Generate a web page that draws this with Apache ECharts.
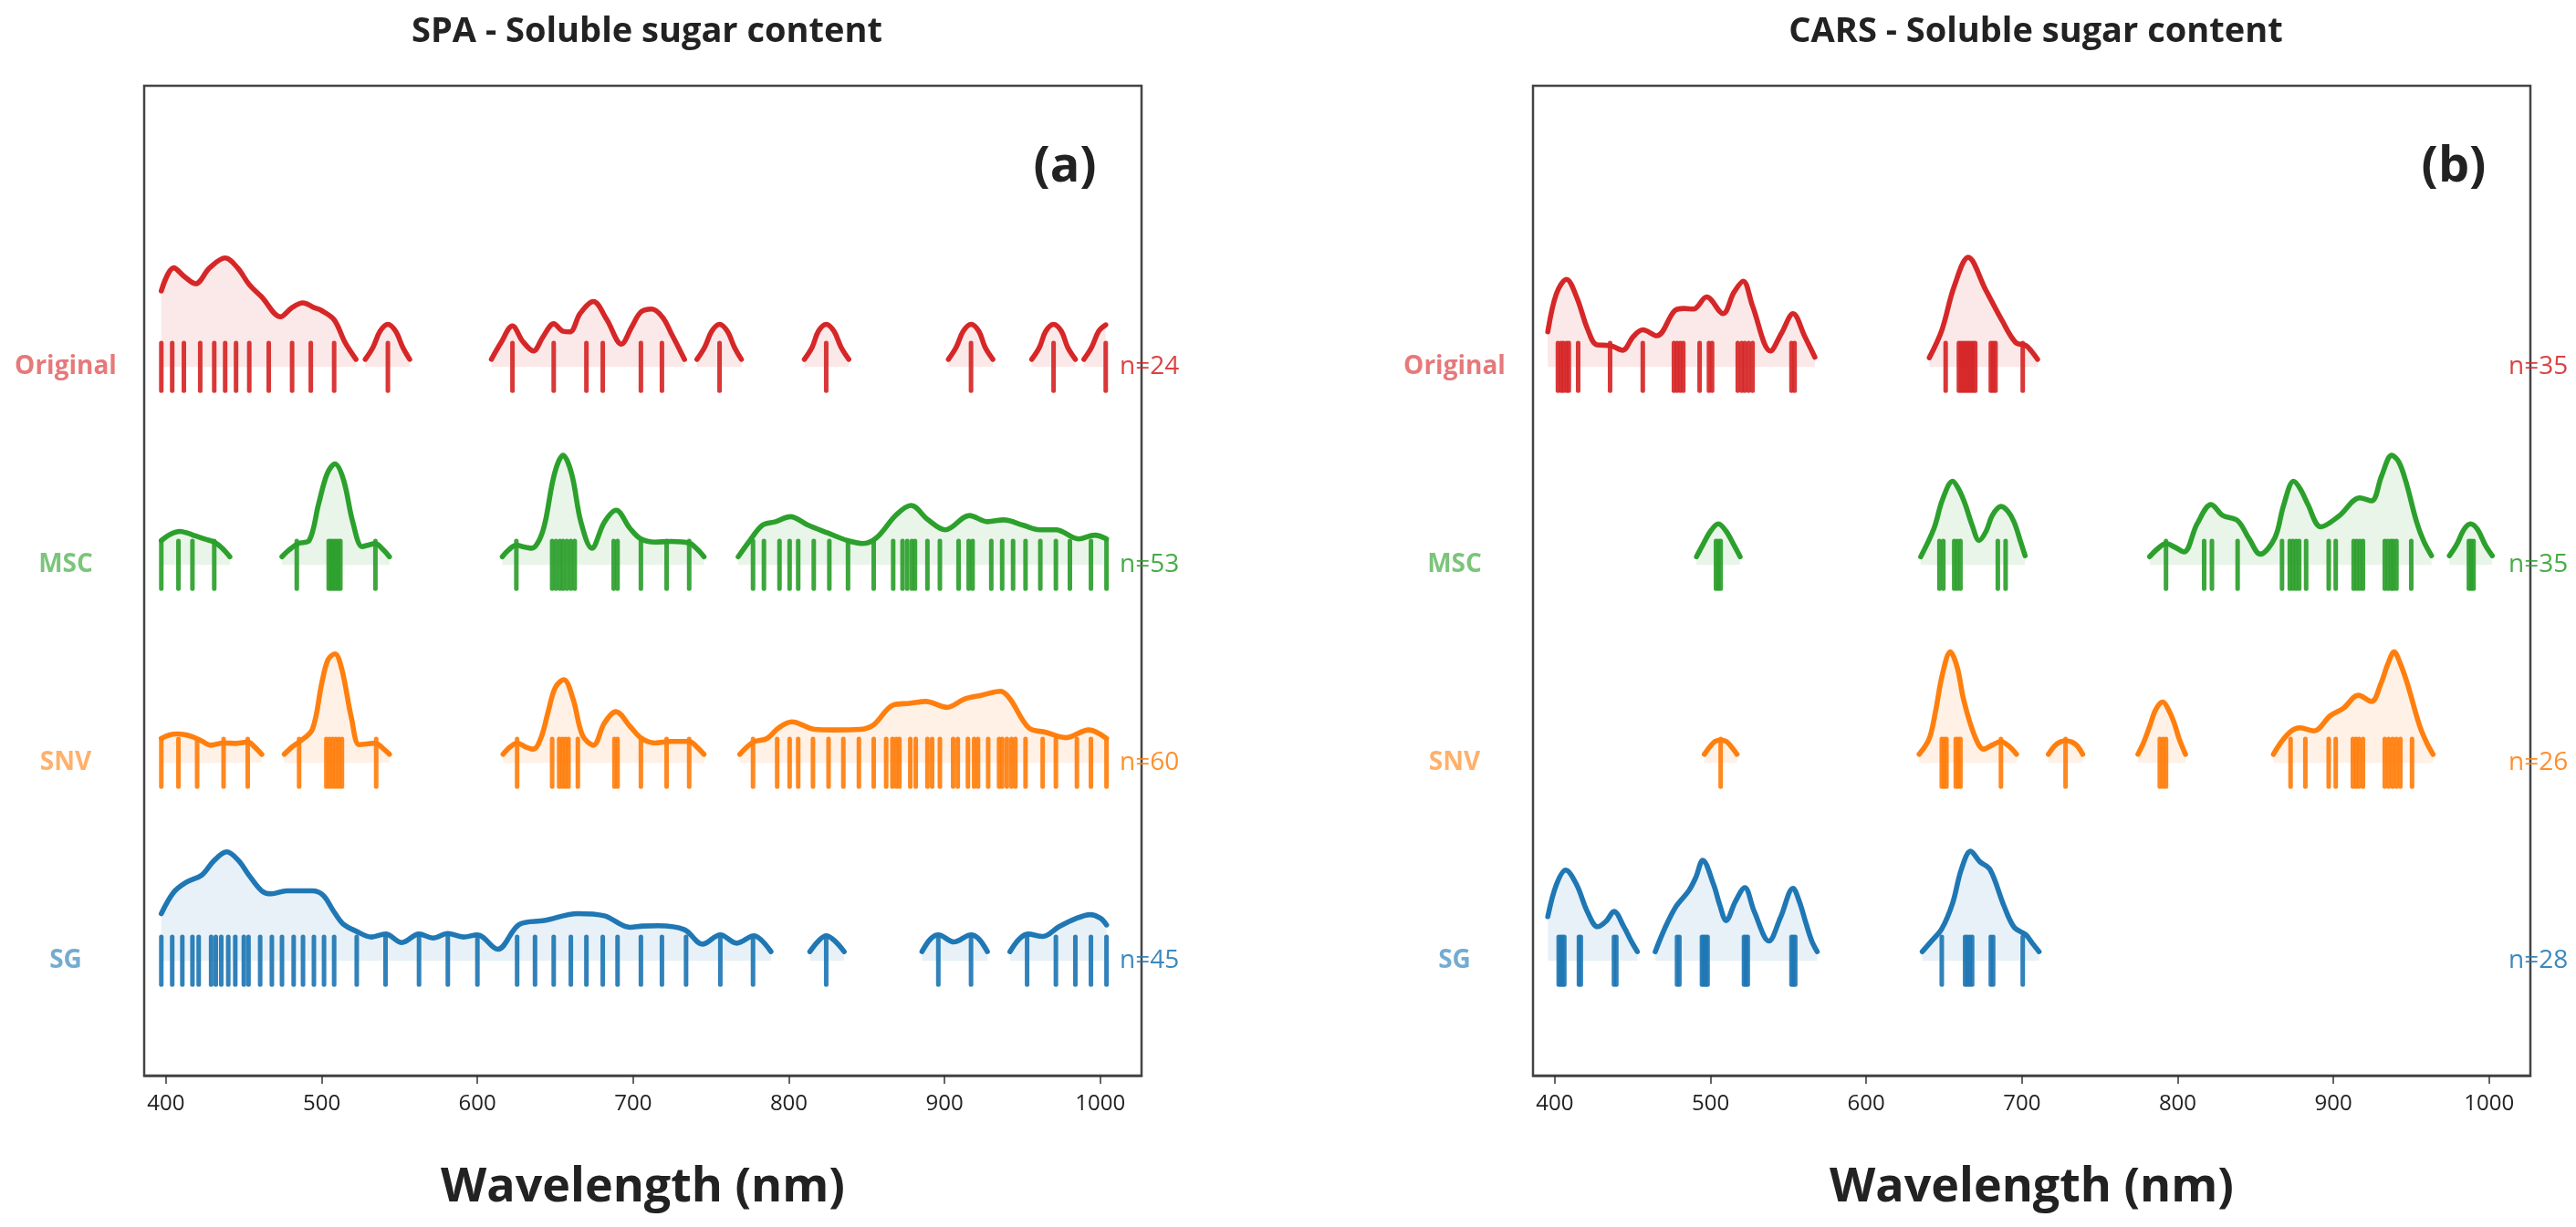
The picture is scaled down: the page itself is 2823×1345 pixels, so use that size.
<!DOCTYPE html>
<html>
<head>
<meta charset="utf-8">
<title>SPA / CARS - Soluble sugar content</title>
<script src="https://cdn.jsdelivr.net/npm/echarts@6/dist/echarts.min.js"></script>
<style>
  html, body { margin: 0; padding: 0; background: #fff; }
  #chart { width: 2823px; height: 1345px; }
</style>
</head>
<body>
<div id="chart"></div>
<script>
// ---- data (wavelengths in nm, density heights in row units) ----
var rowNames = ['SG', 'SNV', 'MSC', 'Original'];
var xTicks = [400, 500, 600, 700, 800, 900, 1000];

// SPA panel (a)
var spaOriginalRug = [397, 404, 411.5, 422, 431, 438, 445, 453.5, 466, 481, 493, 508, 542.5, 622.5, 649, 670, 680.5, 705, 718.5, 755.5, 824, 917, 970, 1003.5];
var spaOriginalKde = [
	[[397,0.384],[405,0.5],[412,0.455],[419,0.42],[428,0.5],[438,0.55],[446,0.5],[453.5,0.415],[461.5,0.353],[473.5,0.253],[481,0.3],[488,0.323],[495,0.3],[500,0.284],[508,0.238],[515,0.123],[522,0.038]],
	[[528,0.038],[533,0.1],[537.5,0.18],[542.5,0.215],[547.5,0.18],[552,0.1],[556.5,0.038]],
	[[609,0.038],[615,0.12],[622.5,0.207],[629,0.13],[636,0.08],[642,0.15],[649,0.218],[655,0.18],[659.5,0.177],[666,0.27],[674.5,0.33],[683,0.24],[692.5,0.115],[699,0.2],[705,0.277],[712,0.292],[719,0.25],[724.5,0.169],[733,0.038]],
	[[741,0.038],[746,0.1],[750.5,0.18],[755.5,0.215],[760.5,0.18],[765,0.1],[769.5,0.038]],
	[[810,0.038],[815,0.1],[819,0.18],[824,0.215],[829,0.18],[833.5,0.1],[838.5,0.038]],
	[[902.5,0.038],[907.5,0.1],[912,0.18],[917,0.215],[922,0.18],[926,0.1],[931,0.038]],
	[[956,0.038],[961,0.1],[965,0.18],[970,0.215],[975,0.18],[979,0.1],[984,0.038]],
	[[989.5,0.038],[994.5,0.1],[999,0.18],[1003.5,0.212]]
];
var spaMscRug = [397, 408, 417, 431, 484, 504.5, 506, 507.5, 509, 510.5, 512, 534.5, 625, 648, 650.5, 653, 655, 657.5, 660, 662.5, 687.5, 690, 705, 721.5, 736, 777, 784, 794, 800.5, 806, 816, 826, 838, 854.5, 867, 873, 876, 879, 881, 889, 897, 909, 915.5, 918, 930, 937, 944, 952, 961.5, 971.5, 980.5, 994, 1004];
var spaMscKde = [
	[[397,0.123],[403,0.155],[409,0.169],[414,0.16],[419,0.146],[425,0.13],[431,0.115],[436,0.085],[441,0.041]],
	[[474.5,0.041],[479,0.075],[485,0.108],[492,0.123],[498,0.307],[503.5,0.46],[508.5,0.51],[514,0.43],[520,0.215],[526,0.092],[530,0.1],[534.5,0.108],[539,0.08],[543.5,0.041]],
	[[616,0.041],[620,0.075],[625,0.1],[630,0.09],[635,0.084],[640,0.13],[643.5,0.215],[649.5,0.46],[655,0.553],[660.5,0.46],[666.5,0.215],[673.5,0.084],[681.5,0.215],[689,0.276],[698,0.184],[705,0.131],[714,0.115],[724.5,0.118],[736,0.11],[741,0.08],[745.5,0.041]],
	[[767.5,0.041],[775,0.123],[783,0.2],[791.5,0.218],[801,0.243],[812.5,0.2],[825,0.161],[837.5,0.123],[848,0.108],[856.5,0.138],[869,0.253],[878.5,0.3],[889,0.23],[900.5,0.177],[916,0.249],[927.5,0.218],[938,0.227],[950.5,0.2],[961,0.177],[971.5,0.177],[986,0.131],[996.5,0.15],[1004,0.131]]
];
var spaSnvRug = [397, 408, 420, 437, 452.5, 485.5, 503, 505, 507, 509, 511, 513, 535, 625.5, 648, 652.5, 654.5, 656.5, 658.5, 664.5, 688, 690, 705, 721.5, 736, 777, 792.5, 800.5, 806, 815.5, 825.5, 835, 845, 854.5, 862.5, 866.5, 869, 871, 878, 881.5, 889, 892, 897, 905.5, 908.5, 915, 919, 921.5, 928, 935, 937, 940, 943, 945.5, 952, 963, 971.5, 985, 994, 1004];
var spaSnvKde = [
	[[397,0.123],[402,0.14],[407,0.146],[412,0.142],[417,0.131],[423,0.11],[428.5,0.089],[437,0.1],[445.5,0.098],[452.5,0.105],[457,0.08],[461.5,0.043]],
	[[476,0.043],[481,0.08],[486,0.108],[494,0.169],[500,0.4],[504,0.52],[508.5,0.55],[513,0.47],[519,0.23],[524,0.092],[529,0.095],[534.5,0.1],[539,0.075],[543.5,0.043]],
	[[616.5,0.043],[621,0.08],[625.5,0.1],[631,0.08],[636,0.069],[641,0.13],[645.5,0.26],[650,0.38],[655.5,0.42],[661.5,0.32],[667.5,0.138],[674.5,0.089],[681.5,0.2],[689,0.258],[698,0.184],[705.5,0.123],[714,0.1],[724.5,0.108],[736,0.108],[741,0.08],[745.5,0.043]],
	[[768.5,0.043],[777,0.104],[786,0.123],[793.5,0.177],[802,0.207],[816.5,0.169],[829,0.166],[846,0.169],[854.5,0.192],[867,0.292],[877.5,0.3],[888,0.31],[901.5,0.28],[913,0.323],[923.5,0.341],[936,0.361],[942,0.323],[954,0.177],[965,0.154],[978,0.127],[992.5,0.166],[1004,0.123]]
];
var spaSgRug = [397, 404, 410.5, 417, 421, 429, 432, 435.5, 440, 444.5, 450, 453, 460.5, 468, 474.5, 482, 488, 495, 501.5, 508, 522.5, 541, 562.5, 581, 600, 625.5, 637, 649, 660, 670, 680.5, 690, 705, 718.5, 734, 756, 777, 824, 896, 917, 953, 971.5, 984, 994, 1004];
var spaSgKde = [
	[[397,0.238],[405,0.346],[413,0.396],[423,0.433],[431,0.507],[439,0.55],[446.5,0.507],[453.5,0.43],[461.5,0.353],[467.5,0.338],[477.5,0.353],[494,0.353],[501,0.33],[508,0.246],[514,0.184],[522,0.15],[532,0.12],[541,0.135],[551.5,0.092],[562.5,0.135],[571.5,0.115],[581,0.138],[591,0.12],[600,0.131],[613,0.058],[627,0.184],[643,0.203],[664.5,0.238],[681.5,0.227],[698,0.169],[706,0.175],[716,0.177],[733,0.157],[744.5,0.084],[756,0.131],[766.5,0.089],[777.5,0.126],[788.5,0.046]],
	[[813.5,0.046],[819,0.1],[824,0.126],[829.5,0.1],[835.5,0.046]],
	[[885.5,0.046],[891,0.11],[896,0.131],[906,0.095],[917,0.131],[922,0.11],[927.5,0.046]],
	[[942,0.046],[948,0.11],[953.5,0.135],[963,0.123],[973.5,0.172],[984,0.212],[993.5,0.233],[1000,0.215],[1004,0.181]]
];

// CARS panel (b)
var carsOriginalRug = [402, 404, 405.5, 407.5, 409, 415, 435.5, 456.5, 476.5, 478.5, 480.5, 482.5, 493, 499, 501, 517.5, 520, 522, 524.5, 527, 552, 554, 651, 659.5, 661, 662.5, 664, 665.5, 667, 668.5, 670, 680, 681.5, 683, 700.5];
var carsOriginalKde = [
	[[395.5,0.177],[401,0.369],[407.5,0.442],[414,0.353],[421,0.192],[427,0.111],[435.5,0.108],[443.5,0.084],[450.5,0.154],[456.5,0.187],[465.5,0.157],[477,0.284],[483,0.295],[489,0.292],[497.5,0.353],[508,0.269],[515,0.376],[521,0.433],[527,0.307],[538.5,0.08],[545.5,0.169],[553,0.269],[560.5,0.154],[567,0.049]],
	[[640.5,0.046],[648.5,0.184],[656.5,0.407],[665.5,0.553],[676.5,0.392],[687.5,0.23],[696,0.123],[702.5,0.108],[706,0.08],[710,0.038]]
];
var carsMscRug = [503.5, 505, 506.5, 647, 649.5, 656.5, 658.5, 660.5, 684.5, 689.5, 792.5, 817, 822, 838.5, 867, 872, 874, 876, 878, 882.5, 897, 901.5, 913, 915, 917, 919, 933, 935, 937, 938.5, 940.5, 950, 987, 988.5, 990];
var carsMscKde = [
	[[491,0.041],[495,0.1],[500,0.17],[505,0.207],[510,0.17],[515,0.1],[519,0.041]],
	[[635,0.041],[643.5,0.184],[649,0.33],[655.5,0.422],[659.5,0.38],[663.5,0.307],[668,0.2],[672.5,0.123],[677,0.17],[681,0.25],[686.5,0.295],[691,0.27],[695,0.215],[699,0.12],[702,0.046]],
	[[782,0.041],[787,0.08],[792.5,0.108],[798,0.09],[804,0.065],[812.5,0.207],[821.5,0.304],[829,0.249],[838.5,0.223],[846,0.13],[853,0.054],[862.5,0.138],[868,0.3],[874.5,0.422],[879,0.38],[883.5,0.307],[892,0.192],[903.5,0.246],[917,0.338],[924.5,0.323],[931,0.45],[937.5,0.553],[942,0.52],[946.5,0.422],[953.5,0.215],[958,0.12],[963,0.046]],
	[[974.5,0.046],[979,0.1],[984,0.18],[988,0.207],[992.5,0.18],[997.5,0.1],[1002,0.046]]
];
var carsSnvRug = [506.5, 648.5, 650, 651.5, 657.5, 659, 660.5, 686.5, 728, 788.5, 790.5, 792.5, 872.5, 882, 897, 901.5, 912.5, 914.5, 916.5, 919, 933, 935.5, 938, 940.5, 943, 950.5];
var carsSnvKde = [
	[[496,0.043],[500,0.085],[503,0.108],[506.5,0.115],[510,0.108],[513,0.085],[517,0.043]],
	[[634,0.043],[640.5,0.123],[644.5,0.26],[649,0.45],[654,0.56],[658.5,0.48],[662.5,0.32],[669.5,0.138],[675.5,0.069],[681,0.09],[686.5,0.108],[691.5,0.085],[696.5,0.043]],
	[[717,0.043],[721,0.085],[724.5,0.105],[728,0.111],[732,0.105],[735.5,0.085],[739,0.043]],
	[[774.5,0.043],[778,0.1],[782,0.184],[786,0.27],[790.5,0.307],[794,0.27],[797.5,0.207],[801,0.12],[805,0.043]],
	[[861.5,0.043],[867,0.11],[873,0.161],[878.5,0.177],[887.5,0.161],[898,0.238],[906.5,0.276],[916,0.341],[924.5,0.31],[930.5,0.4],[935,0.5],[939,0.56],[943,0.5],[947.5,0.4],[955.5,0.184],[960,0.1],[964,0.043]]
];
var carsSgRug = [402.5, 403.7, 404.9, 406.1, 415.5, 416.7, 438, 439.5, 478.5, 480, 494.5, 495.7, 496.9, 498.1, 521.5, 522.7, 523.9, 552, 553.2, 554.4, 648.5, 663.5, 665, 666.5, 668, 680, 681.5, 700.5];
var carsSgKde = [
	[[395.5,0.223],[401,0.384],[407,0.458],[414,0.384],[421,0.246],[427.5,0.172],[433,0.2],[438,0.249],[444.5,0.169],[449,0.1],[453,0.046]],
	[[464.5,0.046],[471,0.17],[478,0.276],[486,0.353],[490.5,0.42],[495,0.507],[502,0.384],[506,0.28],[510,0.203],[516,0.3],[522,0.369],[528,0.25],[537.5,0.1],[545,0.22],[553,0.366],[557,0.3],[561.5,0.184],[565,0.1],[568.5,0.046]],
	[[636,0.046],[642,0.1],[648.5,0.161],[655.5,0.292],[661,0.46],[667,0.553],[673,0.5],[679.5,0.461],[688.5,0.276],[695,0.169],[702.5,0.131],[706.5,0.09],[711,0.046]]
];

// ---- styling ----
var FONT = '"Open Sans", "Noto Sans", sans-serif';
var rowColors = ['#1f77b4', '#ff7f0e', '#2ca02c', '#d62728'];
var RUG_HALF = 0.12;

function rgba(hex, a) {
	var n = parseInt(hex.slice(1), 16);
	return 'rgba(' + (n >> 16) + ',' + ((n >> 8) & 255) + ',' + (n & 255) + ',' + a + ')';
}

// one line series per kde piece, filled down to the row's baseline
function kdeSeries(g, row, segments) {
	var color = rowColors[row];
	return segments.map(function (seg) {
		return {
			type: 'line',
			xAxisIndex: g,
			yAxisIndex: g,
			data: seg.map(function (p) { return [p[0], row + p[1]]; }),
			smooth: 0.35,
			symbol: 'none',
			silent: true,
			z: 4,
			lineStyle: { color: color, width: 5.6, cap: 'round', join: 'round' },
			areaStyle: { color: rgba(color, 0.15), origin: row }
		};
	});
}

function rugSeries(g, row, values) {
	var color = rowColors[row];
	return {
		type: 'custom',
		xAxisIndex: g,
		yAxisIndex: g,
		silent: true,
		z: 3,
		data: values.map(function (v) { return [v, row]; }),
		renderItem: function (params, api) {
			var a = api.coord([api.value(0), api.value(1) - RUG_HALF]);
			var b = api.coord([api.value(0), api.value(1) + RUG_HALF]);
			return {
				type: 'line',
				shape: { x1: a[0], y1: a[1], x2: b[0], y2: b[1] },
				style: { stroke: rgba(color, 0.92), lineWidth: 5, lineCap: 'round' }
			};
		}
	};
}

function countSeries(g, row, n) {
	var color = rowColors[row];
	return {
		type: 'custom',
		xAxisIndex: g,
		yAxisIndex: g,
		silent: true,
		z: 5,
		data: [[1012.5, row, n]],
		renderItem: function (params, api) {
			var p = api.coord([api.value(0), api.value(1)]);
			return {
				type: 'text',
				x: p[0],
				y: p[1],
				style: {
					text: 'n=' + api.value(2),
					fill: rgba(color, 0.88),
					font: '28px ' + FONT,
					align: 'left',
					verticalAlign: 'middle'
				}
			};
		}
	};
}

function panelSeries(g, rugs, kdes) {
	var out = [];
	for (var r = 0; r < 4; r++) {
		out = out.concat(kdeSeries(g, r, kdes[r]));
		out.push(rugSeries(g, r, rugs[r]));
		out.push(countSeries(g, r, rugs[r].length));
	}
	return out;
}

var labelRich = {};
rowNames.forEach(function (name, i) {
	labelRich['r' + i] = { color: rgba(rowColors[i], 0.62), fontSize: 28, fontWeight: 'bold', fontFamily: FONT };
});

function makeX(g) {
	return {
		type: 'value',
		gridIndex: g,
		min: 386,
		max: 1026.5,
		axisLine: { show: true, onZero: false, lineStyle: { color: '#444', width: 2.5 } },
		axisTick: { show: true, customValues: xTicks, length: 9, lineStyle: { color: '#333', width: 1.5 } },
		axisLabel: {
			customValues: xTicks, fontSize: 24, color: '#222', margin: 19, fontFamily: FONT,
			formatter: function (v) { return String(v); }
		},
		splitLine: { show: false },
		name: 'Wavelength (nm)',
		nameLocation: 'middle',
		nameGap: 97,
		nameTextStyle: { fontSize: 52, fontWeight: 'bold', color: '#222', fontFamily: FONT }
	};
}

function makeY(g) {
	return {
		type: 'value',
		gridIndex: g,
		min: -0.58,
		max: 4.42,
		axisLine: { show: false },
		axisTick: { show: false },
		splitLine: { show: false },
		axisLabel: {
			customValues: [0, 1, 2, 3],
			margin: 86,
			align: 'center',
			formatter: function (v) { return '{r' + v + '|' + rowNames[v] + '}'; },
			rich: labelRich
		}
	};
}

var grids = [
	{ left: 158, top: 94, width: 1093, height: 1085 },
	{ left: 1680, top: 94, width: 1093, height: 1085 }
];
grids.forEach(function (gr) {
	gr.show = true;
	gr.borderColor = '#444';
	gr.borderWidth = 2.5;
	gr.containLabel = false;
});

var titleStyle = { fontSize: 38, fontWeight: 'bold', color: '#222', fontFamily: FONT };
var tagStyle = { fontSize: 54, fontWeight: 'bold', color: '#222', fontFamily: FONT };

var chart = echarts.init(document.getElementById('chart'), null, { renderer: 'canvas' });
chart.setOption({
	backgroundColor: '#fff',
	animation: false,
	textStyle: { fontFamily: FONT },
	title: [
		{ text: 'SPA - Soluble sugar content', left: 704, top: 11, textAlign: 'center', textStyle: titleStyle },
		{ text: 'CARS - Soluble sugar content', left: 2226, top: 11, textAlign: 'center', textStyle: titleStyle },
		{ text: '(a)', left: 1162, top: 152, textAlign: 'center', textStyle: tagStyle },
		{ text: '(b)', left: 2684, top: 152, textAlign: 'center', textStyle: tagStyle }
	],
	grid: grids,
	xAxis: [makeX(0), makeX(1)],
	yAxis: [makeY(0), makeY(1)],
	series: panelSeries(0,
			[spaSgRug, spaSnvRug, spaMscRug, spaOriginalRug],
			[spaSgKde, spaSnvKde, spaMscKde, spaOriginalKde])
		.concat(panelSeries(1,
			[carsSgRug, carsSnvRug, carsMscRug, carsOriginalRug],
			[carsSgKde, carsSnvKde, carsMscKde, carsOriginalKde]))
});
</script>
</body>
</html>
